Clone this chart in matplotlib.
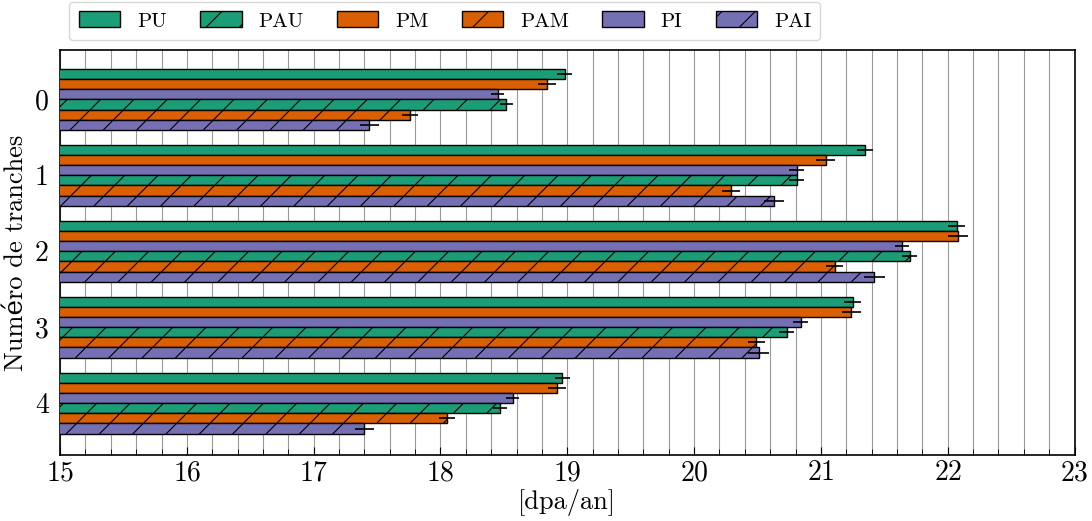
import numpy as np
import matplotlib
matplotlib.use("Agg")
import matplotlib.pyplot as plt
from matplotlib.patches import Patch
from matplotlib.ticker import MultipleLocator

plt.rcParams['font.family'] = ['cmr10', 'DejaVu Serif']
plt.rcParams['mathtext.fontset'] = 'cm'
plt.rcParams['axes.formatter.use_mathtext'] = True
plt.rcParams['hatch.linewidth'] = 0.8

groups = [0, 1, 2, 3, 4]
series = ["PU", "PM", "PI", "PAU", "PAM", "PAI"]

# valeurs [dpa/an]
PU = [18.98, 21.35, 22.07, 21.25, 18.96]
PM = [18.84, 21.04, 22.08, 21.24, 18.92]
PI = [18.45, 20.81, 21.64, 20.84, 18.57]
PAU = [18.52, 20.81, 21.70, 20.73, 18.47]
PAM = [17.76, 20.29, 21.11, 20.49, 18.05]
PAI = [17.44, 20.63, 21.42, 20.51, 17.40]

PU_err = [0.06, 0.063, 0.064, 0.065, 0.058]
PM_err = [0.072, 0.075, 0.076, 0.077, 0.072]
PI_err = [0.052, 0.06, 0.057, 0.057, 0.052]
PAU_err = [0.054, 0.06, 0.058, 0.058, 0.054]
PAM_err = [0.065, 0.07, 0.068, 0.068, 0.062]
PAI_err = [0.073, 0.075, 0.082, 0.082, 0.073]

values = [PU, PM, PI, PAU, PAM, PAI]
errors = [PU_err, PM_err, PI_err, PAU_err, PAM_err, PAI_err]
colors = ['#1b9e77', '#d95f02', '#7570b3', '#1b9e77', '#d95f02', '#7570b3']
hatches = ['', '', '', '/', '/', '/']

fig = plt.figure(figsize=(10.92, 5.21), dpi=100)
ax = fig.add_axes([0.055, 0.127, 0.929, 0.777])

h = 0.8 / 6
y = np.array(groups, dtype=float)
for i, name in enumerate(series):
    ax.barh(y + (i - 2.5) * h, values[i], height=h, left=0, color=colors[i],
            edgecolor='black', linewidth=1.0, hatch=hatches[i], zorder=3)
    ax.errorbar(values[i], y + (i - 2.5) * h, xerr=errors[i], fmt='none',
                ecolor='black', elinewidth=1.2, capsize=0, zorder=4)

ax.set_xlim(15, 23)
ax.set_ylim(4.68, -0.65)
ax.set_yticks(groups)
ax.set_yticklabels([str(g) for g in groups])
ax.xaxis.set_major_locator(MultipleLocator(1))
ax.xaxis.set_minor_locator(MultipleLocator(0.2))
ax.tick_params(axis='x', which='both', direction='in', top=False, labelsize=20)
ax.tick_params(axis='x', which='major', length=6)
ax.tick_params(axis='x', which='minor', length=4)
ax.tick_params(axis='y', which='both', length=0, labelsize=20, pad=8)
ax.grid(axis='x', which='both', color='0.6', linewidth=0.8, zorder=0)
ax.set_axisbelow(True)
for s in ax.spines.values():
    s.set_linewidth(1.2)

ax.set_xlabel('[dpa/an]', fontsize=19, labelpad=2)
ax.set_ylabel('Numéro de tranches', fontsize=19, labelpad=5)

order = [0, 3, 1, 4, 2, 5]
handles = [Patch(facecolor=colors[i], edgecolor='black', hatch=hatches[i], label=series[i])
           for i in order]
ax.legend(handles=handles, ncol=6, loc='lower left', bbox_to_anchor=(0.009, 1.025),
          fontsize=15, frameon=True, fancybox=True, borderaxespad=0,
          handlelength=2.0, handleheight=0.8, columnspacing=1.6, borderpad=0.45)

fig.savefig('out.png', dpi=100)
